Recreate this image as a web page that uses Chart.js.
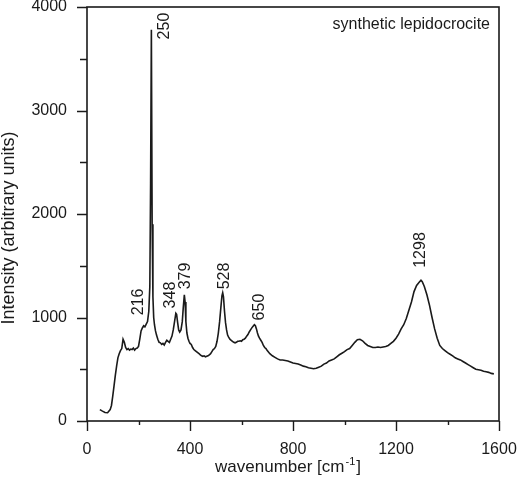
<!DOCTYPE html>
<html>
<head>
<meta charset="utf-8">
<script src="https://cdn.jsdelivr.net/npm/chart.js@4"></script>
<style>
  html, body { margin: 0; padding: 0; background: #fff; }
  #wrap { width: 520px; height: 483px; }
</style>
</head>
<body>
<div id="wrap"><canvas id="raman"></canvas></div>
<script>
// wavenumber (cm-1) and intensity
var waveNumbers = [50,60,70,80,90,95,100,105,110,115,120,125,130,135,140,145,150,155,160,165,170,175,180,185,190,195,200,205,210,215,220,225,230,235,240,244,247,250,253,256,259,262,266,270,275,280,285,290,295,300,305,310,315,320,325,330,335,340,345,348,352,356,360,365,370,374,378,381,384,388,392,396,400,405,410,415,420,425,430,435,440,445,450,455,460,465,470,475,480,485,490,495,500,505,510,515,520,524,527,530,534,538,542,546,550,555,560,565,570,575,580,585,590,595,600,605,610,615,620,625,630,635,640,645,650,654,658,662,666,670,675,680,685,690,695,700,710,720,730,740,750,760,770,780,790,800,810,820,830,840,850,860,870,880,890,900,910,920,930,940,950,960,970,980,990,1000,1010,1020,1030,1040,1050,1060,1070,1080,1090,1100,1110,1120,1130,1140,1150,1160,1170,1180,1190,1200,1210,1220,1230,1240,1250,1260,1270,1280,1290,1297,1302,1310,1320,1330,1340,1350,1360,1370,1380,1390,1400,1410,1420,1430,1440,1450,1460,1470,1480,1490,1500,1510,1520,1530,1540,1550,1560,1570,1580];
var intensity = [110,95,82,80,110,150,240,340,440,530,610,650,680,700,790,760,710,690,700,685,695,690,705,685,700,705,720,790,870,900,920,910,935,960,1060,1300,2300,3780,1900,1200,1000,930,870,830,790,760,755,740,750,735,760,780,770,760,790,820,880,960,1040,1030,950,880,860,880,960,1100,1220,1150,960,850,800,770,750,740,710,690,680,670,660,650,640,630,625,630,620,625,630,640,650,670,690,700,720,770,850,960,1100,1210,1240,1200,1060,950,880,830,810,790,780,770,760,755,760,770,770,775,770,785,790,800,820,835,860,880,900,915,930,920,890,850,820,800,780,760,730,710,700,680,650,630,615,600,590,590,585,580,570,560,555,550,540,530,525,515,510,505,510,520,530,550,560,580,590,600,620,640,655,670,690,700,730,760,785,790,775,750,730,720,710,710,715,710,715,720,730,750,770,800,840,890,930,990,1070,1150,1250,1310,1340,1360,1345,1300,1220,1120,1000,890,800,730,700,680,660,645,630,610,600,590,575,560,545,530,515,500,495,490,480,475,470,460,455];

var xTicks = [0, 400, 800, 1200, 1600];
var yTicks = [0, 1000, 2000, 3000, 4000];

// peak labels and where they sit (data units)
var peakLabels = ['216', '250', '348', '379', '528', '650', '1298'];
var peakLabelX = [202, 303, 326, 381, 536, 672, 1297];
var peakLabelY = [1150, 3816, 1217, 1401, 1401, 1101, 1652];

var sampleName = 'synthetic lepidocrocite';
var xTitle = 'wavenumber [cm';
var xTitleSup = '-1';
var yTitle = 'Intensity (arbitrary units)';

var points = waveNumbers.map(function (w, i) { return {x: w, y: intensity[i]}; });

var FONT = '"Liberation Sans", Arial, Helvetica, sans-serif';
var INK = '#1a1a1a';

var decor = {
  id: 'decor',
  afterDraw: function (chart) {
    var ctx = chart.ctx, a = chart.chartArea;
    var xs = chart.scales.x, ys = chart.scales.y;
    ctx.save();
    // frame
    ctx.strokeStyle = INK;
    ctx.lineWidth = 1.6;
    ctx.strokeRect(a.left, a.top, a.right - a.left, a.bottom - a.top);
    // tick marks
    ctx.lineWidth = 1.4;
    ctx.beginPath();
    for (var v = 0; v <= 1600; v += 200) {
      var px = Math.round(xs.getPixelForValue(v)) + 0.5;
      ctx.moveTo(px, a.bottom);
      ctx.lineTo(px, a.bottom + (v % 400 === 0 ? 10 : 4));
    }
    for (var w = 0; w <= 4000; w += 500) {
      var py = Math.round(ys.getPixelForValue(w)) + 0.5;
      ctx.moveTo(a.left, py);
      ctx.lineTo(a.left - (w % 1000 === 0 ? 10 : 7), py);
    }
    ctx.stroke();

    ctx.fillStyle = INK;
    // peak labels, rotated
    ctx.font = '16px ' + FONT;
    ctx.textAlign = 'center';
    ctx.textBaseline = 'middle';
    peakLabels.forEach(function (t, i) {
      ctx.save();
      ctx.translate(xs.getPixelForValue(peakLabelX[i]), ys.getPixelForValue(peakLabelY[i]));
      ctx.rotate(-Math.PI / 2);
      ctx.fillText(t, 0, 0);
      ctx.restore();
    });

    // sample name
    ctx.font = '16px ' + FONT;
    ctx.textAlign = 'right';
    ctx.textBaseline = 'alphabetic';
    ctx.fillText(sampleName, a.right - 9, a.top + 22);

    // x title with superscript
    ctx.font = '17px ' + FONT;
    var w1 = ctx.measureText(xTitle).width;
    ctx.font = '11px ' + FONT;
    var w2 = ctx.measureText(xTitleSup).width;
    ctx.font = '17px ' + FONT;
    var w3 = ctx.measureText(']').width;
    var x0 = 287 - (w1 + w2 + w3) / 2;
    ctx.textAlign = 'left';
    ctx.fillText(xTitle, x0, 472);
    ctx.font = '11px ' + FONT;
    ctx.fillText(xTitleSup, x0 + w1 + 1, 465);
    ctx.font = '17px ' + FONT;
    ctx.fillText(']', x0 + w1 + w2 + 2, 472);

    // y title
    ctx.save();
    ctx.translate(9, 228);
    ctx.rotate(-Math.PI / 2);
    ctx.font = '18px ' + FONT;
    ctx.textAlign = 'center';
    ctx.textBaseline = 'middle';
    ctx.fillText(yTitle, 0, 0);
    ctx.restore();
    ctx.restore();
  }
};

function plain(v) { return String(v); }

new Chart('raman', {
  type: 'line',
  data: {
    datasets: [{
      data: points,
      borderColor: INK,
      borderWidth: 1.6,
      pointRadius: 0,
      tension: 0,
      fill: false
    }]
  },
  options: {
    responsive: true,
    maintainAspectRatio: false,
    animation: false,
    layout: {padding: {left: 0, top: 7, right: 21, bottom: 0}},
    plugins: {legend: {display: false}, tooltip: {enabled: false}},
    scales: {
      x: {
        type: 'linear', min: 0, max: 1600,
        afterBuildTicks: function (s) { s.ticks = xTicks.map(function (v) { return {value: v}; }); },
        ticks: {padding: 11, color: INK, font: {family: FONT, size: 16}, maxRotation: 0, callback: plain},
        grid: {display: false},
        border: {display: false},
        afterFit: function (s) { s.height = 62; s.paddingLeft = 0; s.paddingRight = 0; }
      },
      y: {
        min: 0, max: 4000,
        afterBuildTicks: function (s) { s.ticks = yTicks.map(function (v) { return {value: v}; }); },
        ticks: {padding: 12, color: INK, font: {family: FONT, size: 16}, callback: plain},
        grid: {display: false},
        border: {display: false},
        afterFit: function (s) { s.width = 87; s.paddingTop = 0; s.paddingBottom = 0; }
      }
    }
  },
  plugins: [decor]
});
</script>
</body>
</html>
